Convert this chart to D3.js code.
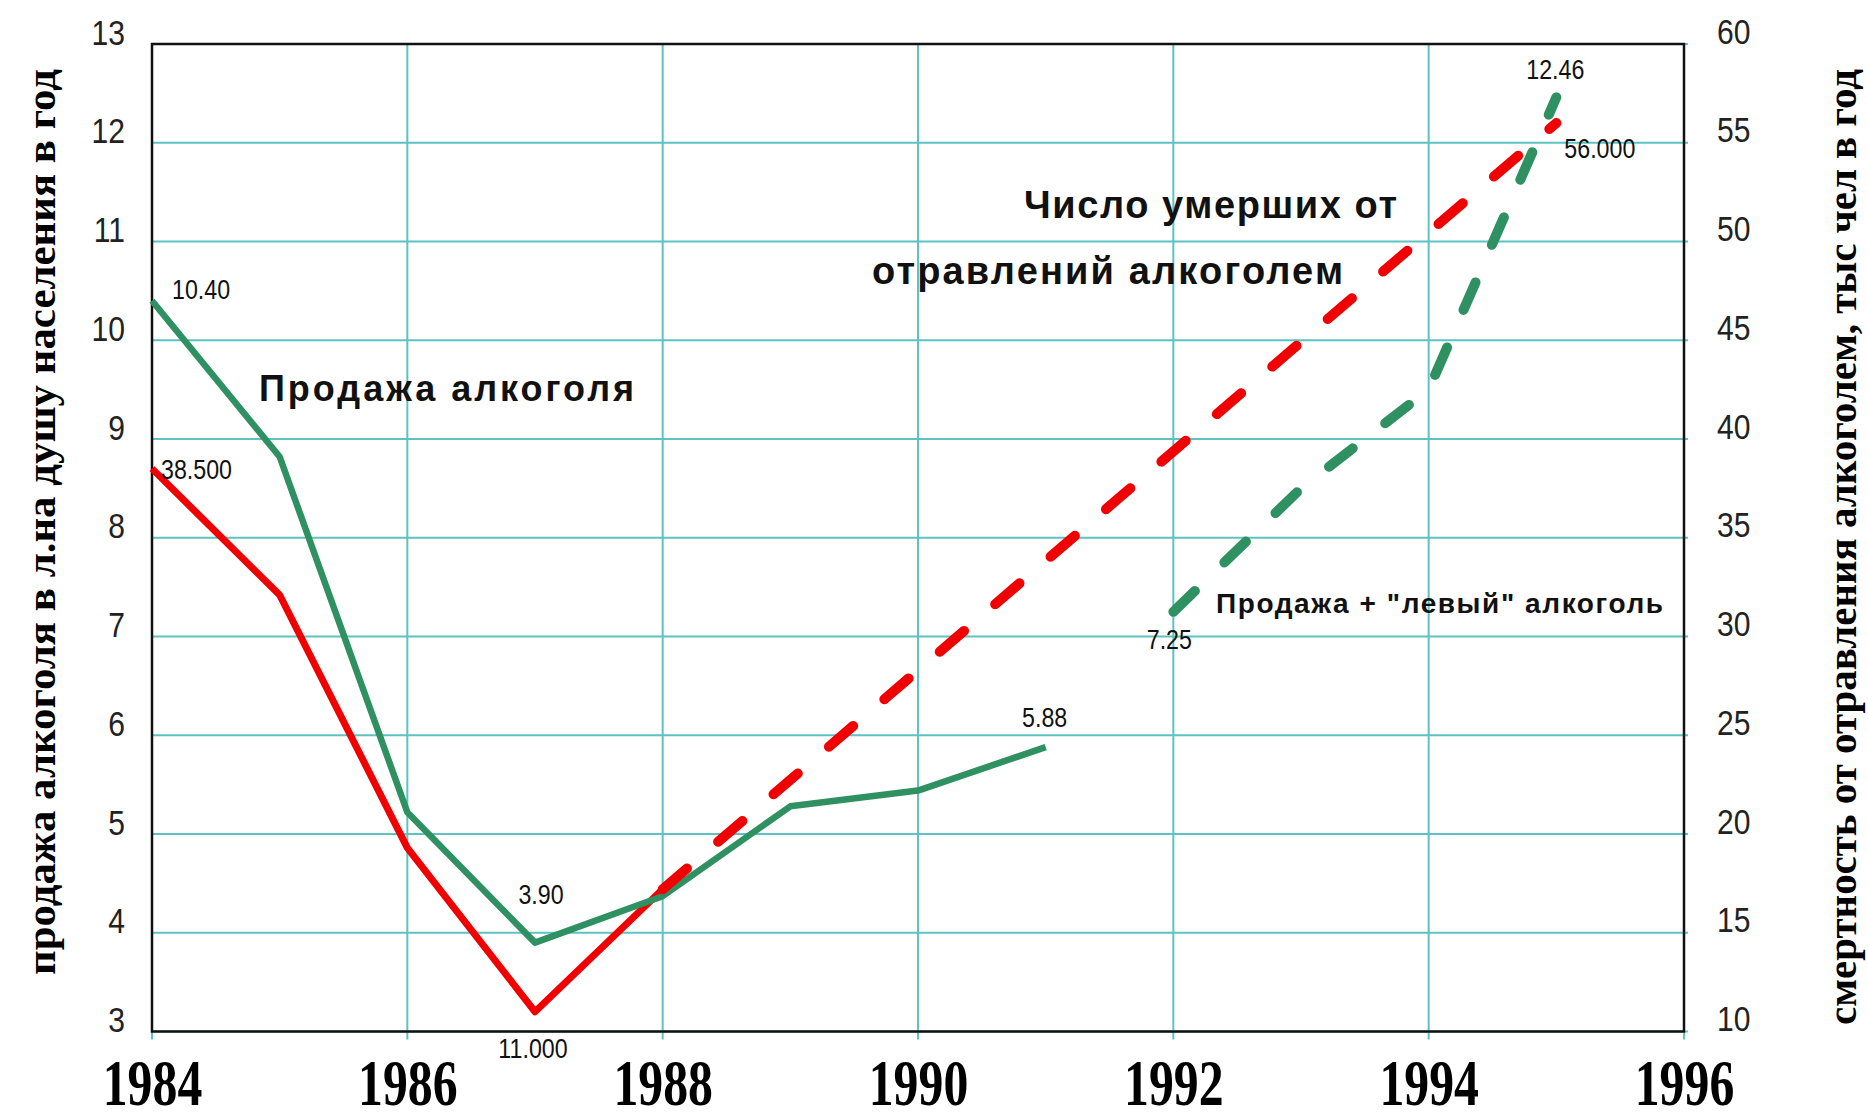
<!DOCTYPE html>
<html>
<head>
<meta charset="utf-8">
<script src="https://cdn.jsdelivr.net/npm/d3@7"></script>
<style>
  body { margin: 0; background: #fff; }
  svg { display: block; }
</style>
</head>
<body>
<svg width="1868" height="1113"></svg>
<script>
// ---- data ----
const salesYears = [1984, 1985, 1986, 1987, 1988, 1989, 1990, 1991];
const salesValues = [10.40, 8.82, 5.22, 3.90, 4.37, 5.28, 5.44, 5.88];

const totalYears = [1992, 1993, 1994, 1995];
const totalValues = [7.25, 8.50, 9.50, 12.46];

const deathYears = [1984, 1985, 1986, 1987, 1988];
const deathValues = [38.5, 32.1, 19.3, 11.0, 17.2];

const deathTrendYears = [1988, 1995];
const deathTrendValues = [17.2, 56.0];

const xTicks = [1984, 1986, 1988, 1990, 1992, 1994, 1996];
const leftTicks = [3, 4, 5, 6, 7, 8, 9, 10, 11, 12, 13];
const rightTicks = [10, 15, 20, 25, 30, 35, 40, 45, 50, 55, 60];

// value labels: [series, year, text]
const valueLabels = [
  ["sales", 1984, "10.40"],
  ["deaths", 1984, "38.500"],
  ["sales", 1987, "3.90"],
  ["deaths", 1987, "11.000"],
  ["sales", 1991, "5.88"],
  ["total", 1992, "7.25"],
  ["total", 1995, "12.46"],
  ["trend", 1995, "56.000"]
];

const svg = d3.select("svg");
const svgWidth = +svg.attr("width");
const svgHeight = +svg.attr("height");

const plotLeft = 152, plotRight = 1684, plotTop = 44, plotBottom = 1031.5;

const green = "#2f9161";
const red = "#f00000";
const gridColor = "#5ec2c2";
const sans = "'Liberation Sans', Arial, sans-serif";
const serif = "'Liberation Serif', 'Times New Roman', serif";
const squeeze = 0.86; // the original digits are a narrow face

const xScale = d3.scaleLinear().domain([1984, 1996]).range([plotLeft, plotRight]);
const yLeft = d3.scaleLinear().domain([3, 13]).range([plotBottom, plotTop]);
const yRight = d3.scaleLinear().domain([10, 60]).range([plotBottom, plotTop]);

svg.append("rect").attr("width", svgWidth).attr("height", svgHeight).attr("fill", "#fff");

// grid
svg.append("g")
  .selectAll("line")
  .data(leftTicks)
  .enter()
  .append("line")
  .attr("x1", plotLeft)
  .attr("x2", plotRight + 4)
  .attr("y1", (d) => yLeft(d))
  .attr("y2", (d) => yLeft(d))
  .attr("stroke", gridColor)
  .attr("stroke-width", 2);

svg.append("g")
  .selectAll("line")
  .data(xTicks)
  .enter()
  .append("line")
  .attr("x1", (d) => xScale(d))
  .attr("x2", (d) => xScale(d))
  .attr("y1", plotTop)
  .attr("y2", plotBottom + 8)
  .attr("stroke", gridColor)
  .attr("stroke-width", 2);

// frame
svg.append("rect")
  .attr("x", plotLeft)
  .attr("y", plotTop)
  .attr("width", plotRight - plotLeft)
  .attr("height", plotBottom - plotTop)
  .attr("fill", "none")
  .attr("stroke", "#111")
  .attr("stroke-width", 2.5);

// axes
const xAxis = svg.append("g")
  .attr("transform", `translate(0,${plotBottom})`)
  .call(d3.axisBottom(xScale).tickValues(xTicks).tickSize(0).tickFormat(d3.format("d")));
xAxis.select(".domain").remove();
xAxis.selectAll("text")
  .attr("y", 0)
  .attr("dy", null)
  .attr("transform", "translate(0,73) scale(0.83,1.08)")
  .style("font-family", serif)
  .style("font-weight", "bold")
  .style("font-size", "60px")
  .attr("fill", "#000");

const leftAxis = svg.append("g")
  .attr("transform", `translate(${plotLeft},0)`)
  .call(d3.axisLeft(yLeft).tickValues(leftTicks).tickSize(0));
leftAxis.select(".domain").remove();
leftAxis.selectAll("text")
  .attr("x", 0)
  .attr("y", 0)
  .attr("transform", `translate(-27,-11) scale(${squeeze},1)`)
  .style("font-family", sans)
  .style("font-size", "35px")
  .attr("fill", "#222");

const rightAxis = svg.append("g")
  .attr("transform", `translate(${plotRight},0)`)
  .call(d3.axisRight(yRight).tickValues(rightTicks).tickSize(0));
rightAxis.select(".domain").remove();
rightAxis.selectAll("text")
  .attr("x", 0)
  .attr("y", 0)
  .attr("transform", `translate(33,-12) scale(${squeeze},1)`)
  .style("font-family", sans)
  .style("font-size", "35px")
  .attr("fill", "#222");

// axis titles
svg.append("text")
  .attr("transform", "translate(55,522) rotate(-90)")
  .attr("text-anchor", "middle")
  .attr("textLength", 906)
  .attr("lengthAdjust", "spacingAndGlyphs")
  .style("font-family", serif)
  .style("font-weight", "bold")
  .style("font-size", "40px")
  .text("продажа алкоголя в л.на душу населения в год");

svg.append("text")
  .attr("transform", "translate(1856,547) rotate(-90)")
  .attr("text-anchor", "middle")
  .attr("textLength", 956)
  .attr("lengthAdjust", "spacingAndGlyphs")
  .style("font-family", serif)
  .style("font-weight", "bold")
  .style("font-size", "40px")
  .text("смертность от отравления алкоголем, тыс чел в год");

// lines
const toPoints = (years, values) => years.map((y, i) => ({ year: y, v: values[i] }));
const lineLeft = d3.line().x((d) => xScale(d.year)).y((d) => yLeft(d.v));
const lineRight = d3.line().x((d) => xScale(d.year)).y((d) => yRight(d.v));

const series = {
  sales: { pts: toPoints(salesYears, salesValues), y: yLeft },
  total: { pts: toPoints(totalYears, totalValues), y: yLeft },
  deaths: { pts: toPoints(deathYears, deathValues), y: yRight },
  trend: { pts: toPoints(deathTrendYears, deathTrendValues), y: yRight }
};

svg.append("path")
  .datum(series.deaths.pts)
  .attr("d", lineRight)
  .attr("fill", "none")
  .attr("stroke", red)
  .attr("stroke-width", 7)
  .attr("stroke-linejoin", "round");

svg.append("path")
  .datum(series.sales.pts)
  .attr("d", lineLeft)
  .attr("fill", "none")
  .attr("stroke", green)
  .attr("stroke-width", 6.5)
  .attr("stroke-linejoin", "round");

svg.append("path")
  .datum(series.trend.pts)
  .attr("d", lineRight)
  .attr("fill", "none")
  .attr("stroke", red)
  .attr("stroke-width", 10)
  .attr("stroke-dasharray", "32 41")
  .attr("stroke-linecap", "round");

svg.append("path")
  .datum(series.total.pts)
  .attr("d", lineLeft)
  .attr("fill", "none")
  .attr("stroke", green)
  .attr("stroke-width", 10)
  .attr("stroke-dasharray", "30 41")
  .attr("stroke-linecap", "round")
  .attr("stroke-linejoin", "round");

// value labels, offsets from their point
const labelOffsets = {
  "10.40": [20, -11, "start"],
  "38.500": [9, 1, "start"],
  "3.90": [6, -48, "middle"],
  "11.000": [-2, 37, "middle"],
  "5.88": [-1, -30, "middle"],
  "7.25": [-4, 28, "middle"],
  "12.46": [-1, -28, "middle"],
  "56.000": [8, 26, "start"]
};

svg.append("g")
  .selectAll("text")
  .data(valueLabels)
  .enter()
  .append("text")
  .attr("transform", (d) => {
    const s = series[d[0]];
    const p = s.pts.find((q) => q.year === d[1]);
    const tx = xScale(d[1]) + labelOffsets[d[2]][0];
    const ty = s.y(p.v) + labelOffsets[d[2]][1];
    return `translate(${tx},${ty}) scale(${squeeze},1)`;
  })
  .attr("dy", "0.35em")
  .attr("text-anchor", (d) => labelOffsets[d[2]][2])
  .style("font-family", sans)
  .style("font-size", "27px")
  .attr("fill", "#111")
  .text((d) => d[2]);

// annotations
const notes = [
  { text: "Продажа алкоголя", x: 259, y: 401, size: 36, len: 375 },
  { text: "Число умерших от", x: 1024, y: 218, size: 38, len: 373 },
  { text: "отравлений алкоголем", x: 872, y: 284, size: 38, len: 471 },
  { text: "Продажа + \"левый\" алкоголь", x: 1216, y: 613, size: 28, len: 447 }
];

svg.append("g")
  .selectAll("text")
  .data(notes)
  .enter()
  .append("text")
  .attr("x", (d) => d.x)
  .attr("y", (d) => d.y)
  .attr("textLength", (d) => d.len)
  .style("font-family", sans)
  .style("font-weight", "bold")
  .style("font-size", (d) => d.size + "px")
  .attr("fill", "#111")
  .text((d) => d.text);
</script>
</body>
</html>
